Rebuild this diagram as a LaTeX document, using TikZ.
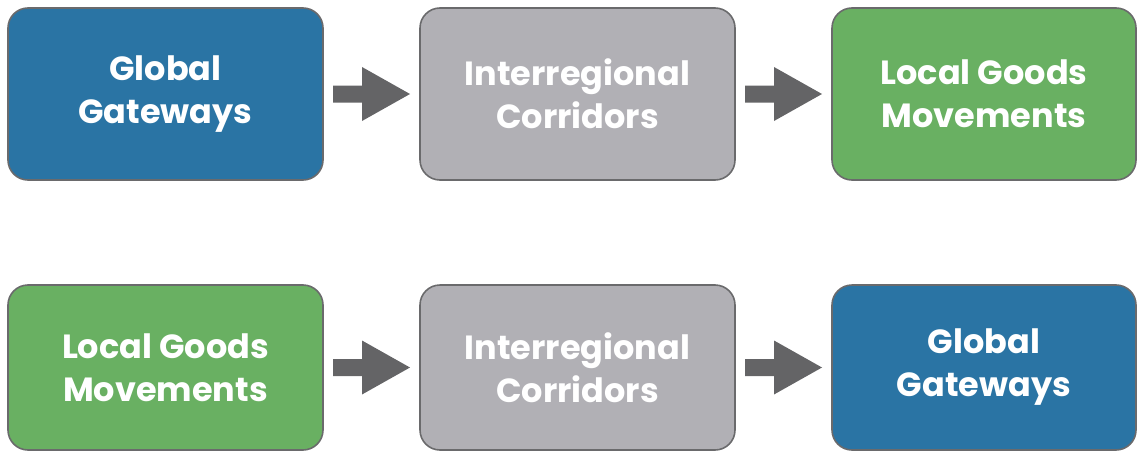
\documentclass[tikz,border=0pt]{standalone}
\usepackage{fontspec}
\setmainfont{Poppins}
\usetikzlibrary{calc}
\definecolor{gblue}{HTML}{2A74A4}
\definecolor{ggray}{HTML}{B1B0B5}
\definecolor{ggreen}{HTML}{69B062}
\definecolor{garrow}{HTML}{646466}
\definecolor{gedge}{HTML}{6A6A6C}
\begin{document}
\begin{tikzpicture}[x=1pt,y=-1pt,
  boxnode/.style={draw=gedge,line width=1.6pt,rounded corners=20pt,inner sep=0pt,
    text=white,font=\fontsize{33.5}{43}\selectfont\bfseries,align=center},
  blockarrow/.style={fill=garrow,draw=none}]
\useasboundingbox (0,0) rectangle (1137,452);
\begin{scope}
\clip (0,0) rectangle (1137,452);
% top row
\node[boxnode,fill=gblue,minimum width=315pt,minimum height=172pt] (a1) at (165.5,94) {Global\\Gateways};
\node[boxnode,fill=ggray,minimum width=315pt,minimum height=172pt] (a2) at (577.5,94) {Interregional\\Corridors};
\node[boxnode,fill=ggreen,minimum width=304pt,minimum height=172pt] (a3) at (984,94) {Local Goods\\Movements};
% bottom row
\node[boxnode,fill=ggreen,minimum width=315pt,minimum height=165pt] (b1) at (165.5,367.5) {Local Goods\\Movements};
\node[boxnode,fill=ggray,minimum width=315pt,minimum height=165pt] (b2) at (577.5,367.5) {Interregional\\Corridors};
\node[boxnode,fill=gblue,minimum width=304pt,minimum height=165pt] (b3) at (984,367.5) {Global\\Gateways};
\end{scope}
% block arrows
\foreach \s/\t in {a1/a2,a2/a3,b1/b2,b2/b3}{
  \path ($(\s.east)!0.5!(\t.west)$) coordinate (m);
  \fill[blockarrow] ([shift={(-38.5pt,-8.5pt)}]m) -- ([shift={(-9.5pt,-8.5pt)}]m)
    -- ([shift={(-9.5pt,-27pt)}]m) -- ([shift={(38.5pt,0pt)}]m)
    -- ([shift={(-9.5pt,27pt)}]m) -- ([shift={(-9.5pt,8.5pt)}]m)
    -- ([shift={(-38.5pt,8.5pt)}]m) -- cycle;
}
\end{tikzpicture}
\end{document}
